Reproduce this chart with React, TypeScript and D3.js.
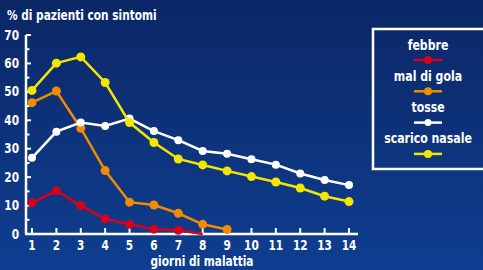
import React from "react";
import * as d3 from "d3";

// giorni di malattia
const days = [1, 2, 3, 4, 5, 6, 7, 8, 9, 10, 11, 12, 13, 14];

// % di pazienti per sintomo (null = nessun dato)
const febbre = [11, 15.2, 10, 5.3, 3.4, 1.7, 1.3, 0, null, null, null, null, null, null];
const malDiGola = [46.2, 50.3, 37.2, 22.3, 11.2, 10.2, 7.3, 3.4, 1.6, null, null, null, null, null];
const tosse = [26.8, 36, 39.2, 38, 40.6, 36.2, 33, 29.2, 28.2, 26.3, 24.4, 21.3, 19, 17.2];
const scaricoNasale = [50.5, 60.1, 62.3, 53.3, 39.2, 32.2, 26.4, 24.3, 22.2, 20.2, 18.3, 16.2, 13.3, 11.4];

const yTicks = [0, 10, 20, 30, 40, 50, 60, 70];

const series = [
  { name: "febbre", values: febbre, color: "#d8001a", r: 4.5 },
  { name: "mal di gola", values: malDiGola, color: "#f08c00", r: 4.5 },
  { name: "tosse", values: tosse, color: "#ffffff", r: 4 },
  { name: "scarico nasale", values: scaricoNasale, color: "#f5e600", r: 4.5 },
];

const W = 483;
const H = 270;
const FONT = "'DejaVu Sans Condensed', 'Liberation Sans Narrow', sans-serif";
const SX = 0.87; // carattere stretto

// testo compresso orizzontalmente
const T = ({ x, y, size = 13, anchor = "start", children }: any) => (
  <text
    transform={`translate(${x},${y}) scale(${SX},1)`}
    fill="#fff"
    fontSize={size}
    textAnchor={anchor}
  >
    {children}
  </text>
);

export default function App() {
  const x = d3.scaleLinear().domain([1, 14]).range([32, 349]);
  const y = d3.scaleLinear().domain([0, 70]).range([234, 35]);
  const axisX = 26;

  const line = d3
    .line<{ d: number; v: number }>()
    .x((p) => x(p.d))
    .y((p) => y(p.v));

  const minorTicks = d3.range(0, 71, 5);

  return (
    <div style={{ position: "fixed", left: 0, top: 0 }}>
      <svg width={W} height={H} style={{ display: "block" }} fontFamily={FONT} fontWeight="bold">
        <defs>
          <linearGradient id="bg" x1="0" y1="0" x2="0" y2="1">
            <stop offset="0" stopColor="#0b2766" />
            <stop offset="1" stopColor="#0f3e90" />
          </linearGradient>
        </defs>
        <rect width={W} height={H} fill="url(#bg)" />

        {/* titolo asse y */}
        <T x={7} y={20} size={13.5}>
          % di pazienti con sintomi
        </T>

        {/* asse y */}
        <line x1={axisX} x2={axisX} y1={y(70)} y2={y(0)} stroke="#fff" strokeWidth={2.5} />
        {minorTicks.map((t) => (
          <line
            key={"m" + t}
            x1={axisX}
            x2={axisX + (t % 10 === 0 ? 5 : 3.5)}
            y1={y(t)}
            y2={y(t)}
            stroke="#fff"
            strokeWidth={2}
          />
        ))}
        {yTicks.map((t) => (
          <T key={"y" + t} x={19} y={y(t) + 4.5} size={13.5} anchor="end">
            {t}
          </T>
        ))}

        {/* asse x */}
        <line x1={axisX - 1} x2={358} y1={y(0)} y2={y(0)} stroke="#fff" strokeWidth={2.5} />
        {days.map((d) => (
          <g key={"x" + d}>
            <line x1={x(d)} x2={x(d)} y1={y(0)} y2={y(0) - 6} stroke="#fff" strokeWidth={2} />
            <T x={x(d)} y={250} size={13.5} anchor="middle">
              {d}
            </T>
          </g>
        ))}
        <T x={202} y={266} size={13.5} anchor="middle">
          giorni di malattia
        </T>

        {/* serie */}
        {series.map((s) => {
          const pts = days
            .map((d, i) => ({ d, v: s.values[i] as number }))
            .filter((p) => p.v !== null);
          return (
            <g key={s.name}>
              <path d={line(pts) ?? ""} fill="none" stroke={s.color} strokeWidth={2.5} />
              {pts
                .filter((p) => p.v > 0)
                .map((p) => (
                  <circle key={p.d} cx={x(p.d)} cy={y(p.v)} r={s.r} fill={s.color} />
                ))}
            </g>
          );
        })}

        {/* legenda */}
        <rect x={373} y={29} width={120} height={140} fill="none" stroke="#fff" strokeWidth={2.5} />
        {series.map((s, i) => {
          const cy = 60 + i * 31.3;
          return (
            <g key={"l" + s.name}>
              <T x={428} y={cy - 10.5} size={14} anchor="middle">
                {s.name}
              </T>
              <line x1={414} x2={442} y1={cy} y2={cy} stroke={s.color} strokeWidth={2.5} />
              <circle cx={428} cy={cy} r={s.r - 0.5} fill={s.color} />
            </g>
          );
        })}
      </svg>
    </div>
  );
}
